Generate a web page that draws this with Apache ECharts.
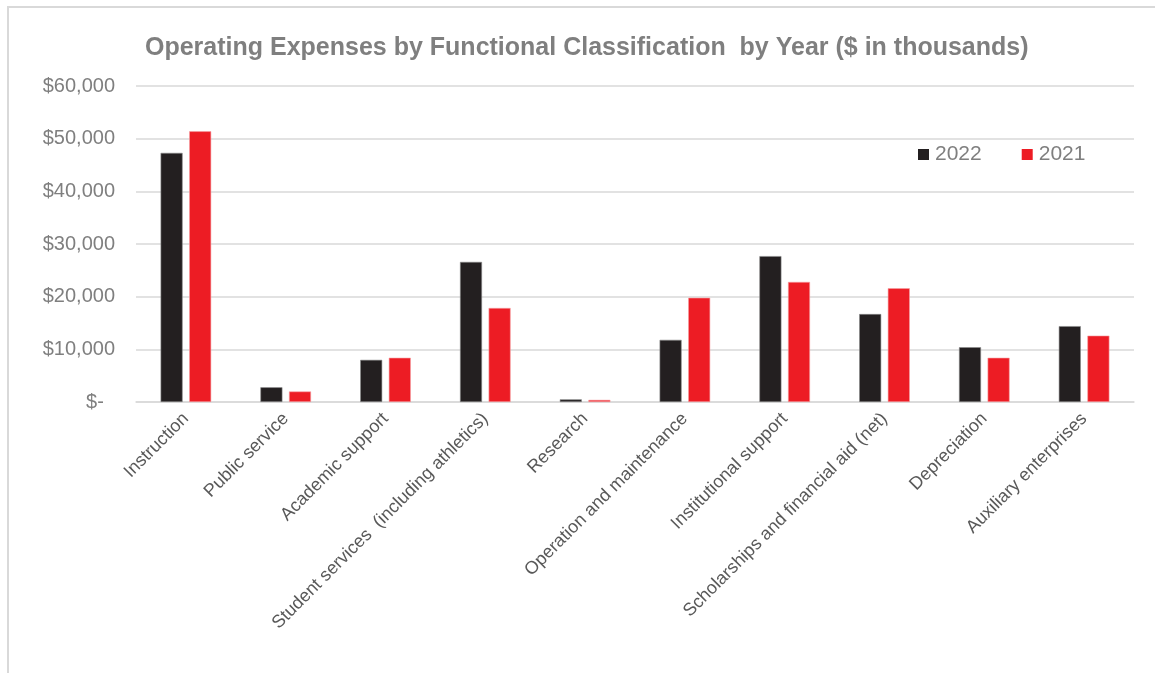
<!DOCTYPE html>
<html>
<head>
<meta charset="utf-8">
<script src="https://cdn.jsdelivr.net/npm/echarts@6/dist/echarts.min.js"></script>
<style>
html,body{margin:0;padding:0;background:#fff;}
#frame{position:absolute;left:7px;top:6px;width:1160px;height:680px;border:2px solid #d9d9d9;box-sizing:border-box;}
#chart{position:absolute;left:0;top:0;width:1155px;height:673px;}
</style>
</head>
<body>
<div id="frame"></div>
<div id="chart"></div>
<script>
const categories = [
  'Instruction',
  'Public service',
  'Academic support',
  'Student services  (including athletics)',
  'Research',
  'Operation and maintenance',
  'Institutional support',
  'Scholarships and financial aid (net)',
  'Depreciation',
  'Auxiliary enterprises'
];
const values2022 = [47300, 2800, 8000, 26600, 500, 11800, 27700, 16700, 10400, 14400];
const values2021 = [51400, 2000, 8400, 17850, 400, 19800, 22800, 21600, 8400, 12600];
const yTicks = { min: 0, max: 60000, interval: 10000 };

const chart = echarts.init(document.getElementById('chart'));
chart.setOption({
  backgroundColor: 'transparent',
  animation: false,
  title: {
    text: 'Operating Expenses by Functional Classification  by Year ($ in thousands)',
    left: 140,
    top: 31,
    textStyle: { fontFamily: 'Liberation Sans', fontWeight: 'bold', fontSize: 25, color: '#7f7f7f' }
  },
  legend: {
    data: ['2022', '2021'],
    left: 913,
    top: 139,
    itemWidth: 11,
    itemHeight: 11,
    itemGap: 40,
    icon: 'rect',
    itemStyle: { borderWidth: 0 },
    textStyle: { fontFamily: 'Liberation Sans', fontSize: 21, color: '#7f7f7f', padding: [0, 0, 0, 1] }
  },
  grid: { left: 136, right: 21, top: 86, bottom: 271, containLabel: false },
  xAxis: {
    type: 'category',
    data: categories,
    axisLine: { lineStyle: { color: '#d9d9d9', width: 1.5 } },
    axisTick: { show: false },
    axisLabel: {
      rotate: 45,
      interval: 0,
      margin: 14,
      fontFamily: 'Liberation Sans',
      fontSize: 18,
      color: '#595959'
    }
  },
  yAxis: {
    type: 'value',
    min: yTicks.min,
    max: yTicks.max,
    interval: yTicks.interval,
    axisLine: { show: false },
    axisTick: { show: false },
    splitLine: { lineStyle: { color: '#d9d9d9', width: 1.5 } },
    axisLabel: {
      margin: 21,
      fontFamily: 'Liberation Sans',
      fontSize: 20,
      color: '#7f7f7f',
      formatter: function (v) {
        if (v === 0) return '$-  ';
        return '$' + v.toLocaleString('en-US');
      }
    }
  },
  series: [
    {
      name: '2022',
      type: 'bar',
      data: values2022,
      barWidth: 22,
      barGap: '30%',
      itemStyle: { color: '#231f20', borderColor: '#8a8a8a', borderWidth: 0.6 }
    },
    {
      name: '2021',
      type: 'bar',
      data: values2021,
      barWidth: 22,
      itemStyle: { color: '#ed1c24', borderColor: '#f7a0a3', borderWidth: 0.6 }
    }
  ]
});
</script>
</body>
</html>
